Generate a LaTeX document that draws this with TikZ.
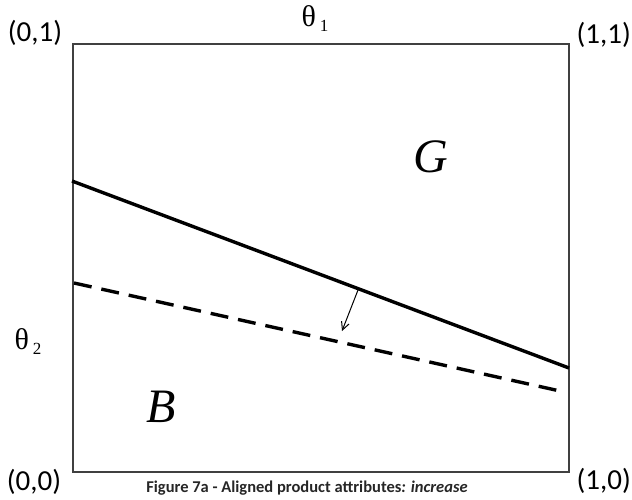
\documentclass[tikz,border=0pt]{standalone}
\usepackage{fontspec}
\setmainfont{Liberation Serif}
\newfontfamily\calfont{Carlito}
\usetikzlibrary{arrows.meta}
\begin{document}
\begin{tikzpicture}[x=1pt,y=-1pt,
  corner/.style={font=\calfont\fontsize{29}{32}\selectfont, inner sep=0pt},
  theta/.style={font=\fontsize{30}{32}\selectfont, inner sep=0pt},
  region/.style={font=\itshape\fontsize{48}{52}\selectfont, inner sep=0pt},
  boxline/.style={draw=black!75, line width=1.6pt},
  frontier/.style={line width=3.4pt},
  shifted/.style={line width=3.4pt, dash pattern=on 18pt off 10pt}]
\useasboundingbox (0,0) rectangle (632,499);
\node[boxline, minimum width=496pt, minimum height=428pt, inner sep=0pt, anchor=north west] (box) at (72,43) {};
\node[corner] (c01) at (35,33) {(0,1)};
\node[corner, anchor=east] (c11) at (631,35) {(1,1)};
\node[corner] (c00) at (34,482) {(0,0)};
\node[corner, anchor=east] (c10) at (631,481) {(1,0)};
\node[theta] (t1) at (315,19) {θ\raisebox{-5pt}{\fontsize{17}{18}\selectfont\hspace{4pt}1}};
\node[theta] (t2) at (28,342) {θ\raisebox{-5pt}{\fontsize{17}{18}\selectfont\hspace{4pt}2}};
\node[region] (G) at (431,157) {G};
\node[region] (B) at (161,407) {B};
\node[font=\calfont\bfseries\fontsize{16.5}{18}\selectfont, inner sep=0pt, text=black!85] (cap) at (307,488) {Figure 7a - Aligned product attributes\textit{: increase}};
\coordinate (s1) at (72,181);
\coordinate (s2) at (569,368);
\coordinate (d1) at (74,283);
\coordinate (d2) at (560,391);
\coordinate (a1) at (358,290);
\coordinate (a2) at (342,331);
\draw[frontier] (s1) -- (s2);
\draw[shifted] (d1) -- (d2);
\draw[line width=1pt, -{Straight Barb[length=8pt,width=8pt]}] (a1) -- (a2);
\end{tikzpicture}
\end{document}
